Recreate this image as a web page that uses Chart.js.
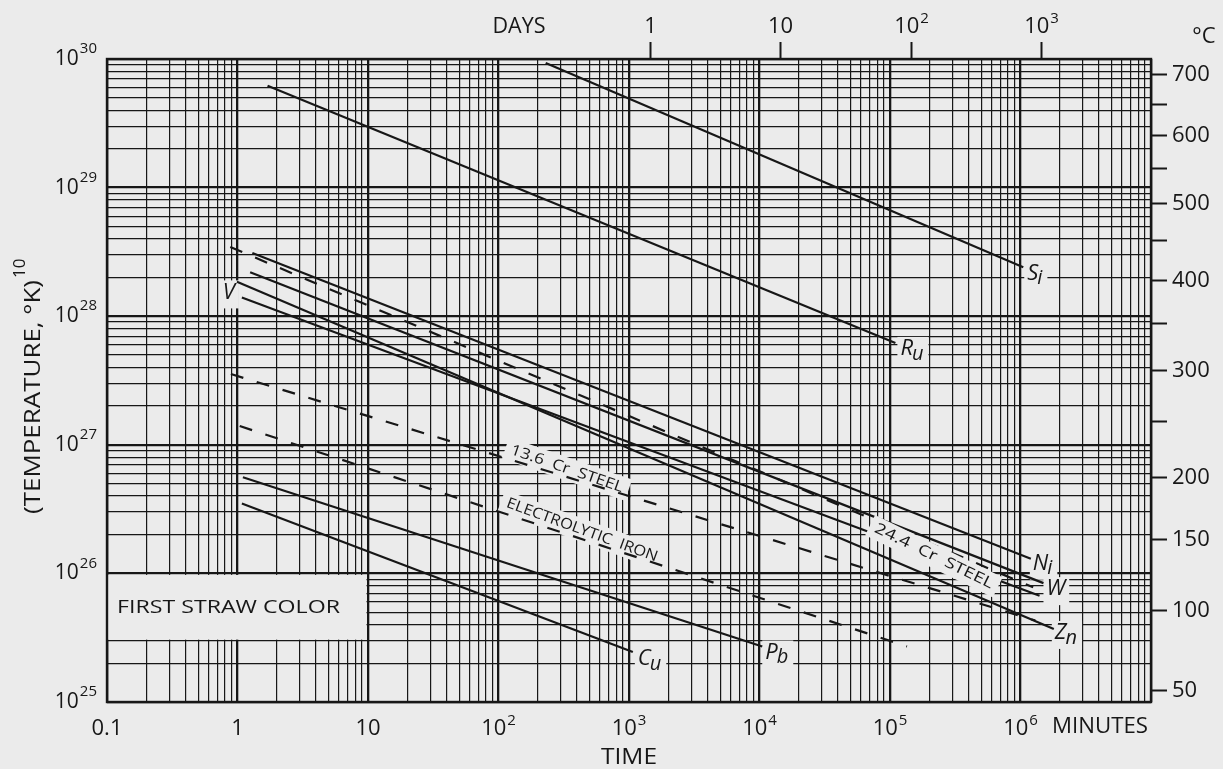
<!DOCTYPE html>
<html>
<head>
<meta charset="utf-8">
<title>First straw color — time vs (temperature, °K)^10</title>
<script src="https://cdn.jsdelivr.net/npm/chart.js"></script>
<style>
  html, body { margin: 0; padding: 0; background: #ebebeb; }
  canvas { display: block; }
</style>
</head>
<body>
<canvas id="chart" width="1223" height="769"></canvas>
<script>
// ---- axis ranges ----
const timeRange = [0.1, 1e7];          // minutes
const tempPow10Range = [1e25, 1e30];   // (T, °K)^10

// ---- bottom (minutes) and left ((°K)^10) tick labels ----
const timeLabelValues = [0.1, 1, 10, 100, 1e3, 1e4, 1e5, 1e6];
const timeLabelText = [['0.1', ''], ['1', ''], ['10', ''], ['10', '2'], ['10', '3'], ['10', '4'], ['10', '5'], ['10', '6']];
const tempLabelValues = [1e25, 1e26, 1e27, 1e28, 1e29, 1e30];
const tempLabelText = [['10', '25'], ['10', '26'], ['10', '27'], ['10', '28'], ['10', '29'], ['10', '30']];

// ---- top axis: days ----
const dayTicks = [1, 10, 100, 1000];
const dayTickText = [['1', ''], ['10', ''], ['10', '2'], ['10', '3']];
const MINUTES_PER_DAY = 1440;

// ---- right axis: °C ----
const celsiusTicks = [700, 650, 600, 550, 500, 450, 400, 350, 300, 250, 200, 150, 100, 50];
const celsiusLabels = [700, 600, 500, 400, 300, 200, 150, 100, 50];

// ---- curves: [start, end] time in minutes and (T, °K)^10 ----
const siTime = [230, 1.05e6];     const siTemp = [9.3e29, 2.4e28];
const ruTime = [1.7, 1.1e5];      const ruTemp = [6.2e29, 6.2e27];
const niTime = [1.3, 1.2e6];      const niTemp = [3.1e28, 1.3e26];
const cr24Time = [0.88, 1.25e6];  const cr24Temp = [3.45e28, 7.8e25];
const wTime = [1.25, 1.5e6];      const wTemp = [2.2e28, 8.4e25];
const znTime = [0.99, 1.8e6];     const znTemp = [1.85e28, 3.7e25];
const vTime = [1.08, 1.4e6];      const vTemp = [1.4e28, 6.7e25];
const cr13Time = [0.89, 1.3e6];   const cr13Temp = [3.55e27, 4.3e25];
const feTime = [1.04, 1.35e5];    const feTemp = [1.4e27, 2.7e25];
const pbTime = [1.1, 1.05e4];     const pbTemp = [5.6e26, 2.7e25];
const cuTime = [1.08, 1.07e3];    const cuTemp = [3.5e26, 2.45e25];

const series = [
  { name: 'Si', time: siTime, temp: siTemp, dashed: false },
  { name: 'Ru', time: ruTime, temp: ruTemp, dashed: false },
  { name: 'Ni', time: niTime, temp: niTemp, dashed: false },
  { name: '24.4 Cr steel', time: cr24Time, temp: cr24Temp, dashed: true },
  { name: 'W', time: wTime, temp: wTemp, dashed: false },
  { name: 'Zn', time: znTime, temp: znTemp, dashed: false },
  { name: 'V', time: vTime, temp: vTemp, dashed: false },
  { name: '13.6 Cr steel', time: cr13Time, temp: cr13Temp, dashed: true },
  { name: 'Electrolytic iron', time: feTime, temp: feTemp, dashed: true },
  { name: 'Pb', time: pbTime, temp: pbTemp, dashed: false },
  { name: 'Cu', time: cuTime, temp: cuTemp, dashed: false }
];

// ---- styling ----
const PAPER = '#ebebeb';
const INK = '#171717';
const FONT = '"Open Sans", "DejaVu Sans", sans-serif';

// element symbols at the curve ends (second letter written lower)
const endLabels = [
  { series: 'Si', at: 1, text: ['S', 'i'], dx: 4, dy: 6 },
  { series: 'Ru', at: 1, text: ['R', 'u'], dx: 5, dy: 6 },
  { series: 'Ni', at: 1, text: ['N', 'i'], dx: 2, dy: 5 },
  { series: 'W', at: 1, text: ['W', ''], dx: 3, dy: 6 },
  { series: 'Zn', at: 1, text: ['Z', 'n'], dx: 1, dy: 4 },
  { series: 'Pb', at: 1, text: ['P', 'b'], dx: 3, dy: 6 },
  { series: 'Cu', at: 1, text: ['C', 'u'], dx: 5, dy: 7 },
  { series: 'V', at: 0, text: ['V', ''], dx: -13, dy: -5 }
];

// captions written along the dashed curves
const alongLabels = [
  { series: '13.6 Cr steel', text: '13.6  Cr  STEEL', at: 335, offset: -8, angle: 19, width: 118, size: 15, eraseAfter: false },
  { series: 'Electrolytic iron', text: 'ELECTROLYTIC  IRON', at: 437, offset: -9, angle: 20, width: 160, size: 15, eraseAfter: false },
  { series: '24.4 Cr steel', text: '24.4  Cr  STEEL', at: 2.17e5, offset: 11, angle: 26, width: 130, size: 15, eraseAfter: true }
];

// ---- helpers ----
function decadeGrid(lo, hi) {
  const out = [];
  const e0 = Math.round(Math.log10(lo)), e1 = Math.round(Math.log10(hi));
  for (let e = e0; e < e1; e++) {
    for (let m = 1; m < 10; m++) out.push(+(m * Math.pow(10, e)).toPrecision(6));
  }
  out.push(hi);
  return out;
}
const isDecade = v => Math.abs(Math.log10(v) - Math.round(Math.log10(v))) < 1e-6;
const findSeries = name => series.find(s => s.name === name);

function logLerp(s, t) {
  const a = Math.log10(s.time[0]), b = Math.log10(s.time[1]);
  const f = (Math.log10(t) - a) / (b - a);
  const la = Math.log10(s.temp[0]), lb = Math.log10(s.temp[1]);
  return Math.pow(10, la + f * (lb - la));
}

function textWithSup(ctx, base, sup, x, y, size, supSize, supRise, align) {
  ctx.font = `${size}px ${FONT}`;
  const wb = ctx.measureText(base).width;
  ctx.font = `${supSize}px ${FONT}`;
  const ws = sup ? ctx.measureText(sup).width + 1 : 0;
  let x0 = x;
  if (align === 'center') x0 = x - (wb + ws) / 2;
  else if (align === 'right') x0 = x - (wb + ws);
  ctx.textAlign = 'left';
  ctx.textBaseline = 'middle';
  ctx.font = `${size}px ${FONT}`;
  ctx.fillText(base, x0, y);
  if (sup) {
    ctx.font = `${supSize}px ${FONT}`;
    ctx.fillText(sup, x0 + wb + 1, y - supRise);
  }
}

function fitText(ctx, text, x, y, size, width, align) {
  ctx.save();
  ctx.font = `${size}px ${FONT}`;
  const w = ctx.measureText(text).width;
  const sx = width / w;
  ctx.textBaseline = 'middle';
  ctx.textAlign = 'left';
  let x0 = x;
  if (align === 'center') x0 = x - width / 2;
  else if (align === 'right') x0 = x - width;
  ctx.translate(x0, y);
  ctx.scale(sx, 1);
  ctx.fillText(text, 0, 0);
  ctx.restore();
}

function alongGeometry(chart, lab) {
  const s = findSeries(lab.series);
  const cx = chart.scales.x.getPixelForValue(lab.at);
  const cy = chart.scales.y.getPixelForValue(logLerp(s, lab.at)) + lab.offset;
  return { cx, cy };
}

function eraseAlong(ctx, chart, lab) {
  const { cx, cy } = alongGeometry(chart, lab);
  ctx.save();
  ctx.translate(cx, cy);
  ctx.rotate(lab.angle * Math.PI / 180);
  ctx.fillStyle = PAPER;
  ctx.fillRect(-lab.width / 2 - 6, -lab.size * 0.55 - 3, lab.width + 12, lab.size * 1.1 + 6);
  ctx.restore();
}

function drawAlong(ctx, chart, lab) {
  const { cx, cy } = alongGeometry(chart, lab);
  ctx.save();
  ctx.translate(cx, cy);
  ctx.rotate(lab.angle * Math.PI / 180);
  ctx.fillStyle = INK;
  fitText(ctx, lab.text, 0, 0, lab.size, lab.width, 'center');
  ctx.restore();
}

function endLabelGeometry(chart, lab) {
  const s = findSeries(lab.series);
  const x = chart.scales.x.getPixelForValue(s.time[lab.at]) + lab.dx;
  const y = chart.scales.y.getPixelForValue(s.temp[lab.at]) + lab.dy;
  return { x, y };
}

function measureEndLabel(ctx, lab) {
  ctx.font = `italic 22px ${FONT}`;
  const w1 = ctx.measureText(lab.text[0]).width;
  ctx.font = `italic 20px ${FONT}`;
  const w2 = lab.text[1] ? ctx.measureText(lab.text[1]).width : 0;
  return { w1, w2 };
}

function eraseEndLabel(ctx, chart, lab) {
  const { x, y } = endLabelGeometry(chart, lab);
  const { w1, w2 } = measureEndLabel(ctx, lab);
  const w = w1 + w2;
  const left = lab.at === 0 ? x - w / 2 : x;
  ctx.fillStyle = PAPER;
  ctx.fillRect(left - 3, y - 12, w + 7, 28);
}

function drawEndLabel(ctx, chart, lab) {
  const { x, y } = endLabelGeometry(chart, lab);
  const { w1, w2 } = measureEndLabel(ctx, lab);
  const left = lab.at === 0 ? x - (w1 + w2) / 2 : x;
  ctx.fillStyle = INK;
  ctx.textAlign = 'left';
  ctx.textBaseline = 'middle';
  ctx.font = `italic 22px ${FONT}`;
  ctx.fillText(lab.text[0], left, y);
  if (lab.text[1]) {
    ctx.font = `italic 20px ${FONT}`;
    ctx.fillText(lab.text[1], left + w1 - 1, y + 5);
  }
}

// ---- plugin: paper, label clearings, frame, outer axes and lettering ----
const paperPlugin = {
  id: 'paper',
  beforeDraw(chart) {
    const ctx = chart.ctx;
    ctx.save();
    ctx.fillStyle = PAPER;
    ctx.fillRect(0, 0, chart.width, chart.height);
    ctx.restore();
  },
  beforeDatasetsDraw(chart) {
    const ctx = chart.ctx;
    const xs = chart.scales.x, ys = chart.scales.y;
    ctx.save();
    // "first straw color" legend panel
    const bl = xs.getPixelForValue(0.1), br = xs.getPixelForValue(10);
    const bt = ys.getPixelForValue(1e26), bb = ys.getPixelForValue(3e25);
    ctx.fillStyle = PAPER;
    ctx.fillRect(bl + 1, bt + 1.5, br - bl - 2.5, bb - bt - 2.5);
    // clearings behind curve captions
    alongLabels.filter(l => !l.eraseAfter).forEach(l => eraseAlong(ctx, chart, l));
    endLabels.forEach(l => eraseEndLabel(ctx, chart, l));
    ctx.restore();
  },
  afterDatasetsDraw(chart) {
    const ctx = chart.ctx;
    const xs = chart.scales.x, ys = chart.scales.y;
    const area = chart.chartArea;
    ctx.save();
    alongLabels.filter(l => l.eraseAfter).forEach(l => eraseAlong(ctx, chart, l));

    // frame
    ctx.strokeStyle = INK;
    ctx.lineWidth = 2.4;
    ctx.strokeRect(area.left, area.top, area.right - area.left, area.bottom - area.top);

    ctx.fillStyle = INK;

    // bottom tick labels (minutes)
    timeLabelValues.forEach((v, i) => {
      const [b, s] = timeLabelText[i];
      textWithSup(ctx, b, s, xs.getPixelForValue(v), area.bottom + 27, 22, 15, 8, 'center');
    });
    fitText(ctx, 'MINUTES', 1100, area.bottom + 25, 22, 96, 'center');
    fitText(ctx, 'TIME', xs.getPixelForValue(1000), area.bottom + 56, 22, 56, 'center');

    // left tick labels
    tempLabelValues.forEach((v, i) => {
      const [b, s] = tempLabelText[i];
      textWithSup(ctx, b, s, area.left - 10, ys.getPixelForValue(v), 21, 15, 10, 'right');
    });

    // left axis title
    ctx.save();
    ctx.translate(34, 397);
    ctx.rotate(-Math.PI / 2);
    fitText(ctx, '(TEMPERATURE, °K)', 0, 0, 22, 234, 'center');
    ctx.font = `17px ${FONT}`;
    ctx.textAlign = 'left';
    ctx.textBaseline = 'middle';
    ctx.fillText('10', 119, -14);
    ctx.restore();

    // top axis: days
    ctx.strokeStyle = INK;
    ctx.lineWidth = 2;
    dayTicks.forEach((d, i) => {
      const x = Math.round(xs.getPixelForValue(d * MINUTES_PER_DAY)) + 0.5;
      ctx.beginPath();
      ctx.moveTo(x, area.top - 17);
      ctx.lineTo(x, area.top);
      ctx.stroke();
      const [b, s] = dayTickText[i];
      textWithSup(ctx, b, s, x, 27, 22, 15, 8, 'center');
    });
    fitText(ctx, 'DAYS', 519, 27, 22, 53, 'center');

    // right axis: °C
    celsiusTicks.forEach(c => {
      const y = Math.round(ys.getPixelForValue(Math.pow(c + 273.15, 10))) + 0.5;
      ctx.beginPath();
      ctx.moveTo(area.right, y);
      ctx.lineTo(area.right + 16, y);
      ctx.stroke();
      if (celsiusLabels.includes(c)) {
        ctx.font = `22px ${FONT}`;
        ctx.textAlign = 'left';
        ctx.textBaseline = 'middle';
        ctx.fillText(String(c), area.right + 21, y);
      }
    });
    ctx.font = `22px ${FONT}`;
    ctx.textAlign = 'center';
    ctx.textBaseline = 'middle';
    ctx.fillText('°C', 1204, 37);

    // legend panel caption
    fitText(ctx, 'FIRST STRAW COLOR', 117, 608, 19, 223, 'left');

    // curve captions
    alongLabels.forEach(l => drawAlong(ctx, chart, l));
    endLabels.forEach(l => drawEndLabel(ctx, chart, l));
    ctx.restore();
  }
};

const xGrid = decadeGrid(timeRange[0], timeRange[1]);
const yGrid = decadeGrid(tempPow10Range[0], tempPow10Range[1]);

const gridStyle = {
  color: INK,
  lineWidth: c => (c.tick && isDecade(c.tick.value)) ? 2.3 : 1.2,
  drawTicks: false
};

new Chart(document.getElementById('chart'), {
  type: 'scatter',
  data: {
    datasets: series.map(s => ({
      label: s.name,
      data: s.time.map((t, i) => ({ x: t, y: s.temp[i] })),
      showLine: true,
      borderColor: INK,
      borderWidth: 2.2,
      borderDash: s.dashed ? [13, 14] : [],
      pointRadius: 0,
      pointHoverRadius: 0,
      fill: false,
      tension: 0
    }))
  },
  options: {
    responsive: false,
    animation: false,
    events: [],
    layout: { padding: { left: 107, top: 59, right: 72, bottom: 67 } },
    plugins: { legend: { display: false }, tooltip: { enabled: false } },
    scales: {
      x: {
        type: 'logarithmic',
        min: timeRange[0],
        max: timeRange[1],
        afterBuildTicks: scale => { scale.ticks = xGrid.map(v => ({ value: v })); },
        ticks: { display: false },
        grid: gridStyle,
        border: { display: false }
      },
      y: {
        type: 'logarithmic',
        min: tempPow10Range[0],
        max: tempPow10Range[1],
        afterBuildTicks: scale => { scale.ticks = yGrid.map(v => ({ value: v })); },
        ticks: { display: false },
        grid: gridStyle,
        border: { display: false }
      }
    }
  },
  plugins: [paperPlugin]
});
</script>
</body>
</html>
